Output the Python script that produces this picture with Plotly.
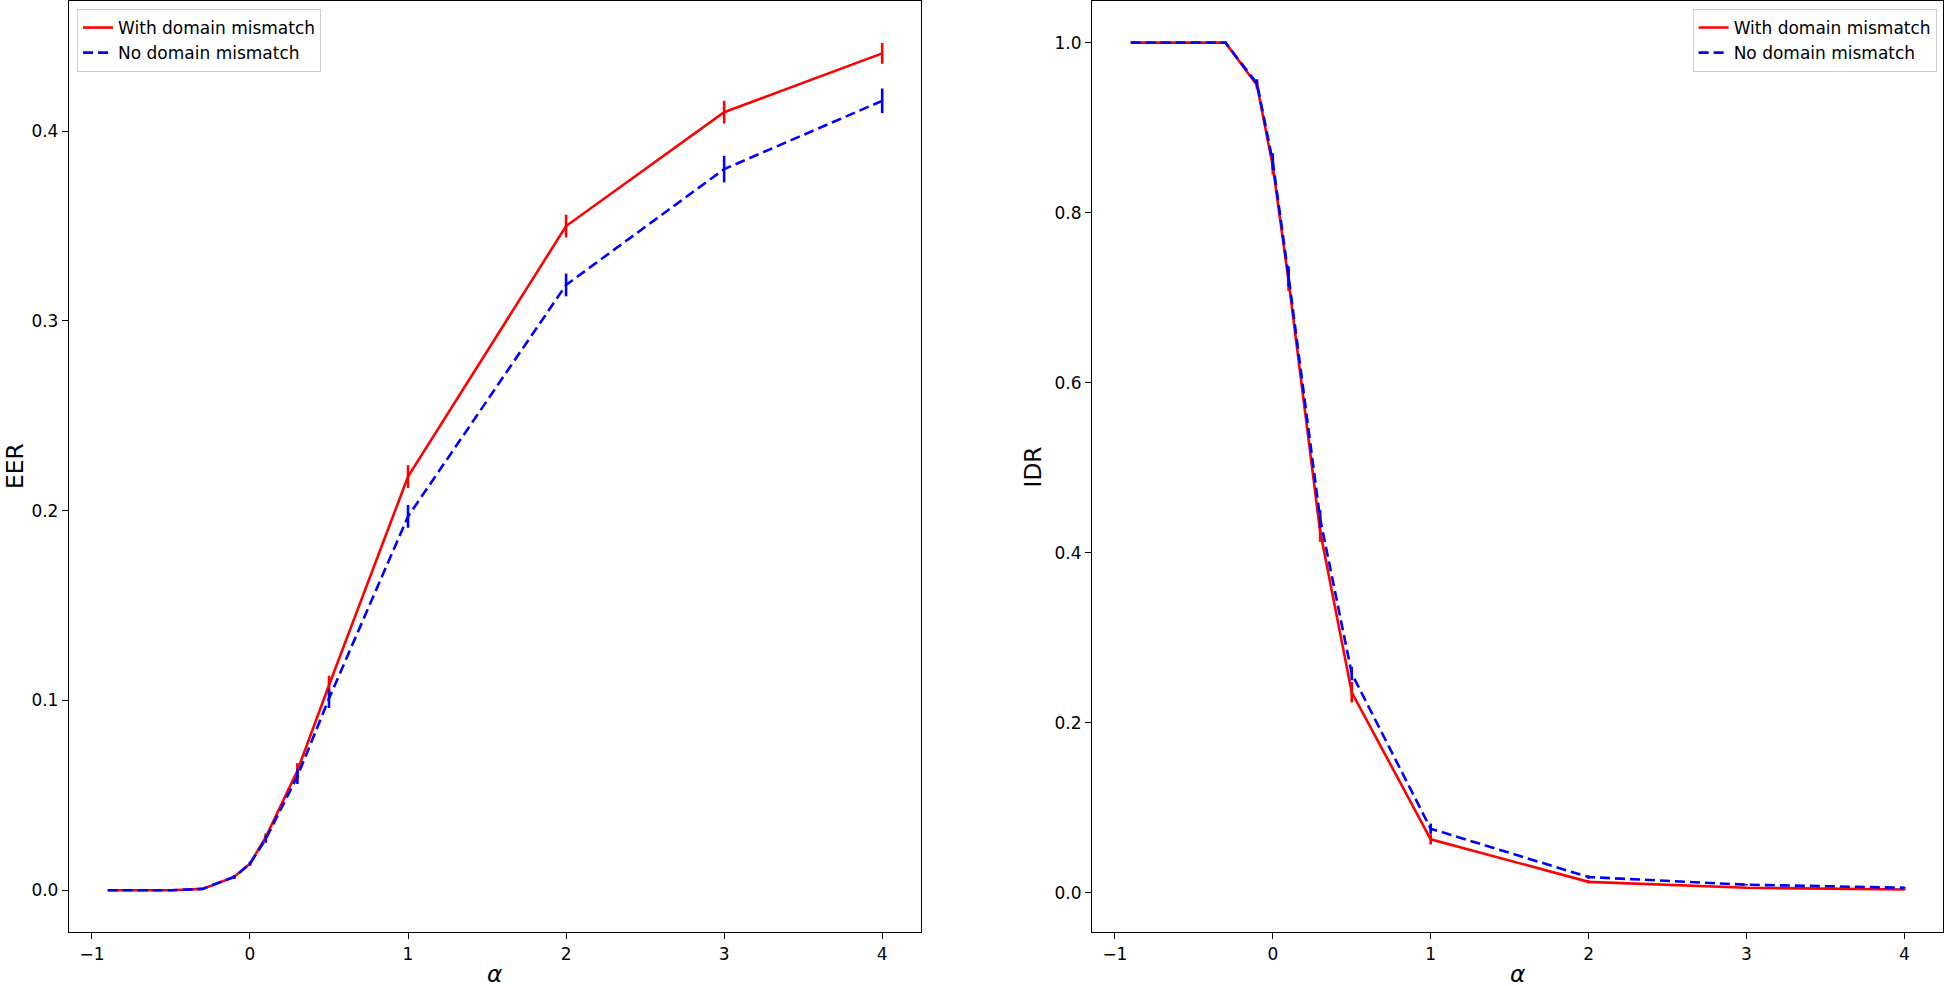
import plotly.graph_objects as go
from plotly.subplots import make_subplots

# alpha values shared by both panels
alpha = [-0.9, -0.5, -0.3, -0.1, 0, 0.1, 0.3, 0.5, 1, 2, 3, 4]

# EER (left panel)
eer_mismatch = [0.0, 0.0, 0.0007, 0.007, 0.014, 0.028, 0.063, 0.108, 0.218, 0.350, 0.410, 0.441]
eer_mismatch_err = [0.0, 0.0, 0.0003, 0.001, 0.001, 0.002, 0.004, 0.005, 0.006, 0.006, 0.006, 0.0055]
eer_nomismatch = [0.0, 0.0, 0.0007, 0.007, 0.014, 0.027, 0.060, 0.101, 0.197, 0.319, 0.380, 0.416]
eer_nomismatch_err = [0.0, 0.0, 0.0003, 0.001, 0.001, 0.002, 0.004, 0.005, 0.006, 0.006, 0.007, 0.0065]

# IDR (right panel)
idr_mismatch = [1.0, 1.0, 1.0, 0.950, 0.855, 0.720, 0.425, 0.236, 0.063, 0.013, 0.006, 0.004]
idr_mismatch_err = [0.0, 0.0, 0.001, 0.005, 0.010, 0.012, 0.012, 0.012, 0.006, 0.002, 0.001, 0.001]
idr_nomismatch = [1.0, 1.0, 1.0, 0.952, 0.860, 0.725, 0.440, 0.258, 0.0755, 0.0186, 0.0096, 0.0061]
idr_nomismatch_err = [0.0, 0.0, 0.001, 0.005, 0.010, 0.012, 0.010, 0.008, 0.006, 0.002, 0.001, 0.001]

label_mismatch = "With domain mismatch"
label_nomismatch = "No domain mismatch"

FONT = "DejaVu Sans"
LW = 2.6

fig = make_subplots(rows=1, cols=2)


def add_pair(col, y_red, e_red, y_blue, e_blue, legend):
    fig.add_trace(go.Scatter(
        x=alpha, y=y_red, mode="lines", name=label_mismatch, legend=legend,
        line=dict(color="#ff0000", width=LW),
        error_y=dict(type="data", array=e_red, width=0, thickness=LW, color="#ff0000"),
    ), row=1, col=col)
    fig.add_trace(go.Scatter(
        x=alpha, y=y_blue, mode="lines", name=label_nomismatch, legend=legend,
        line=dict(color="#0000ff", width=LW, dash="10px,5px"),
        error_y=dict(type="data", array=e_blue, width=0, thickness=LW, color="#0000ff"),
    ), row=1, col=col)


add_pair(1, eer_mismatch, eer_mismatch_err, eer_nomismatch, eer_nomismatch_err, "legend")
add_pair(2, idr_mismatch, idr_mismatch_err, idr_nomismatch, idr_nomismatch_err, "legend2")

axis_style = dict(
    showline=True, mirror=True, linecolor="black", linewidth=1.3,
    ticks="outside", ticklen=6, tickwidth=1.3, tickcolor="black",
    showgrid=False, zeroline=False, automargin=False,
    tickfont=dict(family=FONT, size=17, color="black"),
)

fig.update_xaxes(axis_style, tick0=0, dtick=1)
fig.update_xaxes(domain=[0, 0.4546], range=[-1.145, 4.245], row=1, col=1)
fig.update_xaxes(domain=[0.5459, 1], range=[-1.145, 4.245], row=1, col=2)
fig.update_yaxes(axis_style, tickformat=".1f")
fig.update_yaxes(range=[-0.022, 0.4686], dtick=0.1, row=1, col=1)
fig.update_yaxes(range=[-0.046, 1.049], dtick=0.2, row=1, col=2)

legend_style = dict(
    font=dict(family=FONT, size=17, color="black"),
    bgcolor="rgba(255,255,255,0.8)", bordercolor="#cccccc", borderwidth=1,
    yanchor="top", y=0.9914, tracegroupgap=0,
)
fig.update_layout(
    width=1946, height=986,
    margin=dict(l=69, r=3, t=1, b=54, autoexpand=False),
    plot_bgcolor="white", paper_bgcolor="white",
    font=dict(family=FONT, color="black"),
    legend=dict(legend_style, x=0.0043, xanchor="left"),
    legend2=dict(legend_style, x=0.9966, xanchor="right"),
)

title_font = dict(family=FONT, size=23.3, color="black")
fig.add_annotation(text="EER", xref="paper", yref="paper", x=-69 / 1874, y=0.5,
                   xanchor="left", textangle=-90, showarrow=False, font=title_font,
                   borderpad=0)
fig.add_annotation(text="IDR", xref="paper", yref="paper", x=0.5144, y=0.5,
                   textangle=-90, showarrow=False, font=title_font)
fig.add_annotation(text="<i>α</i>", xref="x domain", yref="paper", x=0.5, y=-0.0616,
                   showarrow=False, font=title_font)
fig.add_annotation(text="<i>α</i>", xref="x2 domain", yref="paper", x=0.5, y=-0.0616,
                   showarrow=False, font=title_font)

# the page body has a default 8px margin; drop it so the figure sits at the window corner
fig.write_html("out.html", config={"displayModeBar": False},
               post_script="document.body.style.margin='0px';")
